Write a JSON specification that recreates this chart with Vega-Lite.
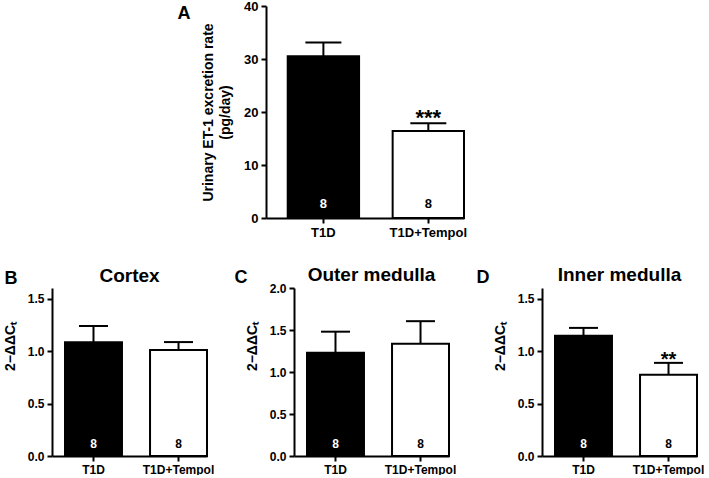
{
  "$schema": "https://vega.github.io/schema/vega-lite/v6.json",
  "background": "white",
  "padding": {"left": 2, "top": 0, "right": 0, "bottom": 0},
  "spacing": 27,
  "config": {
    "font": "Liberation Sans",
    "view": {"stroke": null},
    "axis": {
      "grid": false,
      "domainColor": "black", "domainWidth": 2,
      "tickColor": "black", "tickWidth": 2, "tickSize": 5,
      "labelFont": "Liberation Sans", "labelFontWeight": "bold", "labelColor": "black",
      "titleFont": "Liberation Sans", "titleFontWeight": "bold", "titleColor": "black"
    },
    "title": {"font": "Liberation Sans", "fontWeight": "bold", "color": "black"}
  },
  "vconcat": [
    {
      "width": 412, "height": 212,
      "data": {"values": [
        {"group": "T1D", "mean": 30.5, "upper": 33.1, "n": "8", "sig": ""},
        {"group": "T1D+Tempol", "mean": 16.4, "upper": 17.9, "n": "8", "sig": "***"}
      ]},
      "resolve": {"axis": {"x": "independent"}},
      "layer": [
        {
          "mark": {"type": "bar", "stroke": "black", "strokeWidth": 2},
          "encoding": {
            "x": {"field": "group", "type": "nominal", "sort": null,
              "scale": {"range": [214, 412], "paddingInner": 0.32, "paddingOuter": 0.1035, "align": 1},
              "axis": {"title": null, "labelAngle": 0, "labelFontSize": 13, "labelPadding": 3, "tickSize": 5}},
            "y": {"field": "mean", "type": "quantitative", "scale": {"domain": [0, 40]},
              "axis": {"title": ["Urinary ET-1 excretion rate", "(pg/day)"], "titleFontSize": 14, "titleLineHeight": 17,
                "titleX": -51, "titleY": 106, "titleAngle": -90, "titleAlign": "center", "titleBaseline": "bottom",
                "values": [0, 10, 20, 30, 40], "labelFontSize": 13, "labelPadding": 3, "offset": -214}},
            "fill": {"field": "group", "type": "nominal", "scale": {"range": ["black", "white"]}, "legend": null}
          }
        },
        {
          "mark": {"type": "rule", "strokeWidth": 2, "color": "black"},
          "encoding": {
            "x": {"field": "group", "type": "nominal", "sort": null, "axis": null},
            "y": {"field": "mean", "type": "quantitative"},
            "y2": {"field": "upper"}
          }
        },
        {
          "mark": {"type": "tick", "thickness": 2, "size": 36, "color": "black", "opacity": 1},
          "encoding": {
            "x": {"field": "group", "type": "nominal", "sort": null, "axis": null},
            "y": {"field": "upper", "type": "quantitative"}
          }
        },
        {
          "mark": {"type": "text", "fontSize": 13, "fontWeight": "bold", "baseline": "middle", "dy": -14},
          "encoding": {
            "x": {"field": "group", "type": "nominal", "sort": null, "axis": null},
            "y": {"datum": 0, "type": "quantitative"},
            "text": {"field": "n"},
            "color": {"field": "group", "type": "nominal", "scale": {"range": ["white", "black"]}, "legend": null}
          }
        },
        {
          "mark": {"type": "text", "fontSize": 22, "fontWeight": "bold", "baseline": "alphabetic", "dy": 2, "color": "black"},
          "encoding": {
            "x": {"field": "group", "type": "nominal", "sort": null,
              "axis": {"orient": "top", "title": "A", "titleX": 125, "titleY": 12, "titleAngle": 0, "titleAlign": "left",
                "titleBaseline": "alphabetic", "titleFontSize": 18, "labels": false, "ticks": false, "domain": false}},
            "y": {"field": "upper", "type": "quantitative"},
            "text": {"field": "sig"}
          }
        }
      ]
    },
    {
      "spacing": 20,
      "hconcat": [
        {
          "width": 155, "height": 168,
          "title": {"text": "Cortex", "frame": "group", "anchor": "middle", "fontSize": 19, "baseline": "alphabetic", "offset": 0, "dy": 32},
          "data": {"values": [
            {"group": "T1D", "mean": 1.083, "upper": 1.238, "n": "8", "sig": ""},
            {"group": "T1D+Tempol", "mean": 1.01, "upper": 1.085, "n": "8", "sig": ""}
          ]},
          "resolve": {"axis": {"x": "independent"}},
          "layer": [
            {
              "mark": {"type": "bar", "stroke": "black", "strokeWidth": 2},
              "encoding": {
                "x": {"field": "group", "type": "nominal", "sort": null,
                  "scale": {"paddingInner": 0.33, "paddingOuter": 0.0765, "align": 1},
                  "axis": {"title": null, "labelAngle": 0, "labelFontSize": 12, "labelPadding": 3}},
                "y": {"field": "mean", "type": "quantitative", "scale": {"domain": [0, 1.5]},
                  "axis": {"title": "2−ΔΔCₜ", "titleFontSize": 14, "titleX": -35, "titleY": 58, "titleAngle": -90,
                    "titleAlign": "center", "titleBaseline": "bottom",
                    "values": [0, 0.5, 1, 1.5], "format": ".1f", "labelFontSize": 12, "labelPadding": 3, "minExtent": 48}},
                "fill": {"field": "group", "type": "nominal", "scale": {"range": ["black", "white"]}, "legend": null}
              }
            },
            {
              "mark": {"type": "rule", "strokeWidth": 2, "color": "black"},
              "encoding": {
                "x": {"field": "group", "type": "nominal", "sort": null, "axis": null},
                "y": {"field": "mean", "type": "quantitative"},
                "y2": {"field": "upper"}
              }
            },
            {
              "mark": {"type": "tick", "thickness": 2, "size": 29, "color": "black", "opacity": 1},
              "encoding": {
                "x": {"field": "group", "type": "nominal", "sort": null, "axis": null},
                "y": {"field": "upper", "type": "quantitative"}
              }
            },
            {
              "mark": {"type": "text", "fontSize": 12, "fontWeight": "bold", "baseline": "middle", "dy": -12},
              "encoding": {
                "x": {"field": "group", "type": "nominal", "sort": null, "axis": null},
                "y": {"datum": 0, "type": "quantitative"},
                "text": {"field": "n"},
                "color": {"field": "group", "type": "nominal", "scale": {"range": ["white", "black"]}, "legend": null}
              }
            },
            {
              "mark": {"type": "text", "fontSize": 20, "fontWeight": "bold", "baseline": "alphabetic", "dy": 3, "color": "black"},
              "encoding": {
                "x": {"field": "group", "type": "nominal", "sort": null,
                  "axis": {"orient": "top", "title": "B", "titleX": -48, "titleY": -5, "titleAngle": 0, "titleAlign": "left",
                    "titleBaseline": "alphabetic", "titleFontSize": 18, "labels": false, "ticks": false, "domain": false}},
                "y": {"field": "upper", "type": "quantitative"},
                "text": {"field": "sig"}
              }
            }
          ]
        },
        {
          "width": 155, "height": 168,
          "title": {"text": "Outer medulla", "frame": "group", "anchor": "middle", "fontSize": 19, "baseline": "alphabetic", "offset": 0, "dy": 32},
          "data": {"values": [
            {"group": "T1D", "mean": 1.23, "upper": 1.48, "n": "8", "sig": ""},
            {"group": "T1D+Tempol", "mean": 1.335, "upper": 1.605, "n": "8", "sig": ""}
          ]},
          "resolve": {"axis": {"x": "independent"}},
          "layer": [
            {
              "mark": {"type": "bar", "stroke": "black", "strokeWidth": 2},
              "encoding": {
                "x": {"field": "group", "type": "nominal", "sort": null,
                  "scale": {"paddingInner": 0.33, "paddingOuter": 0.0765, "align": 1},
                  "axis": {"title": null, "labelAngle": 0, "labelFontSize": 12, "labelPadding": 3}},
                "y": {"field": "mean", "type": "quantitative", "scale": {"domain": [0, 2]},
                  "axis": {"title": "2−ΔΔCₜ", "titleFontSize": 14, "titleX": -35, "titleY": 58, "titleAngle": -90,
                    "titleAlign": "center", "titleBaseline": "bottom",
                    "values": [0, 0.5, 1, 1.5, 2], "format": ".1f", "labelFontSize": 12, "labelPadding": 3, "minExtent": 59}},
                "fill": {"field": "group", "type": "nominal", "scale": {"range": ["black", "white"]}, "legend": null}
              }
            },
            {
              "mark": {"type": "rule", "strokeWidth": 2, "color": "black"},
              "encoding": {
                "x": {"field": "group", "type": "nominal", "sort": null, "axis": null},
                "y": {"field": "mean", "type": "quantitative"},
                "y2": {"field": "upper"}
              }
            },
            {
              "mark": {"type": "tick", "thickness": 2, "size": 29, "color": "black", "opacity": 1},
              "encoding": {
                "x": {"field": "group", "type": "nominal", "sort": null, "axis": null},
                "y": {"field": "upper", "type": "quantitative"}
              }
            },
            {
              "mark": {"type": "text", "fontSize": 12, "fontWeight": "bold", "baseline": "middle", "dy": -12},
              "encoding": {
                "x": {"field": "group", "type": "nominal", "sort": null, "axis": null},
                "y": {"datum": 0, "type": "quantitative"},
                "text": {"field": "n"},
                "color": {"field": "group", "type": "nominal", "scale": {"range": ["white", "black"]}, "legend": null}
              }
            },
            {
              "mark": {"type": "text", "fontSize": 20, "fontWeight": "bold", "baseline": "alphabetic", "dy": 3, "color": "black"},
              "encoding": {
                "x": {"field": "group", "type": "nominal", "sort": null,
                  "axis": {"orient": "top", "title": "C", "titleX": -60, "titleY": -6, "titleAngle": 0, "titleAlign": "left",
                    "titleBaseline": "alphabetic", "titleFontSize": 18, "labels": false, "ticks": false, "domain": false}},
                "y": {"field": "upper", "type": "quantitative"},
                "text": {"field": "sig"}
              }
            }
          ]
        },
        {
          "width": 155, "height": 168,
          "title": {"text": "Inner medulla", "frame": "group", "anchor": "middle", "fontSize": 19, "baseline": "alphabetic", "offset": 0, "dy": 32},
          "data": {"values": [
            {"group": "T1D", "mean": 1.145, "upper": 1.22, "n": "8", "sig": ""},
            {"group": "T1D+Tempol", "mean": 0.775, "upper": 0.887, "n": "8", "sig": "**"}
          ]},
          "resolve": {"axis": {"x": "independent"}},
          "layer": [
            {
              "mark": {"type": "bar", "stroke": "black", "strokeWidth": 2},
              "encoding": {
                "x": {"field": "group", "type": "nominal", "sort": null,
                  "scale": {"paddingInner": 0.33, "paddingOuter": 0.0765, "align": 1},
                  "axis": {"title": null, "labelAngle": 0, "labelFontSize": 12, "labelPadding": 3}},
                "y": {"field": "mean", "type": "quantitative", "scale": {"domain": [0, 1.5]},
                  "axis": {"title": "2−ΔΔCₜ", "titleFontSize": 14, "titleX": -35, "titleY": 58, "titleAngle": -90,
                    "titleAlign": "center", "titleBaseline": "bottom",
                    "values": [0, 0.5, 1, 1.5], "format": ".1f", "labelFontSize": 12, "labelPadding": 3, "minExtent": 66}},
                "fill": {"field": "group", "type": "nominal", "scale": {"range": ["black", "white"]}, "legend": null}
              }
            },
            {
              "mark": {"type": "rule", "strokeWidth": 2, "color": "black"},
              "encoding": {
                "x": {"field": "group", "type": "nominal", "sort": null, "axis": null},
                "y": {"field": "mean", "type": "quantitative"},
                "y2": {"field": "upper"}
              }
            },
            {
              "mark": {"type": "tick", "thickness": 2, "size": 29, "color": "black", "opacity": 1},
              "encoding": {
                "x": {"field": "group", "type": "nominal", "sort": null, "axis": null},
                "y": {"field": "upper", "type": "quantitative"}
              }
            },
            {
              "mark": {"type": "text", "fontSize": 12, "fontWeight": "bold", "baseline": "middle", "dy": -12},
              "encoding": {
                "x": {"field": "group", "type": "nominal", "sort": null, "axis": null},
                "y": {"datum": 0, "type": "quantitative"},
                "text": {"field": "n"},
                "color": {"field": "group", "type": "nominal", "scale": {"range": ["white", "black"]}, "legend": null}
              }
            },
            {
              "mark": {"type": "text", "fontSize": 20, "fontWeight": "bold", "baseline": "alphabetic", "dy": 3, "color": "black"},
              "encoding": {
                "x": {"field": "group", "type": "nominal", "sort": null,
                  "axis": {"orient": "top", "title": "D", "titleX": -66, "titleY": -6, "titleAngle": 0, "titleAlign": "left",
                    "titleBaseline": "alphabetic", "titleFontSize": 18, "labels": false, "ticks": false, "domain": false}},
                "y": {"field": "upper", "type": "quantitative"},
                "text": {"field": "sig"}
              }
            }
          ]
        }
      ]
    }
  ]
}
